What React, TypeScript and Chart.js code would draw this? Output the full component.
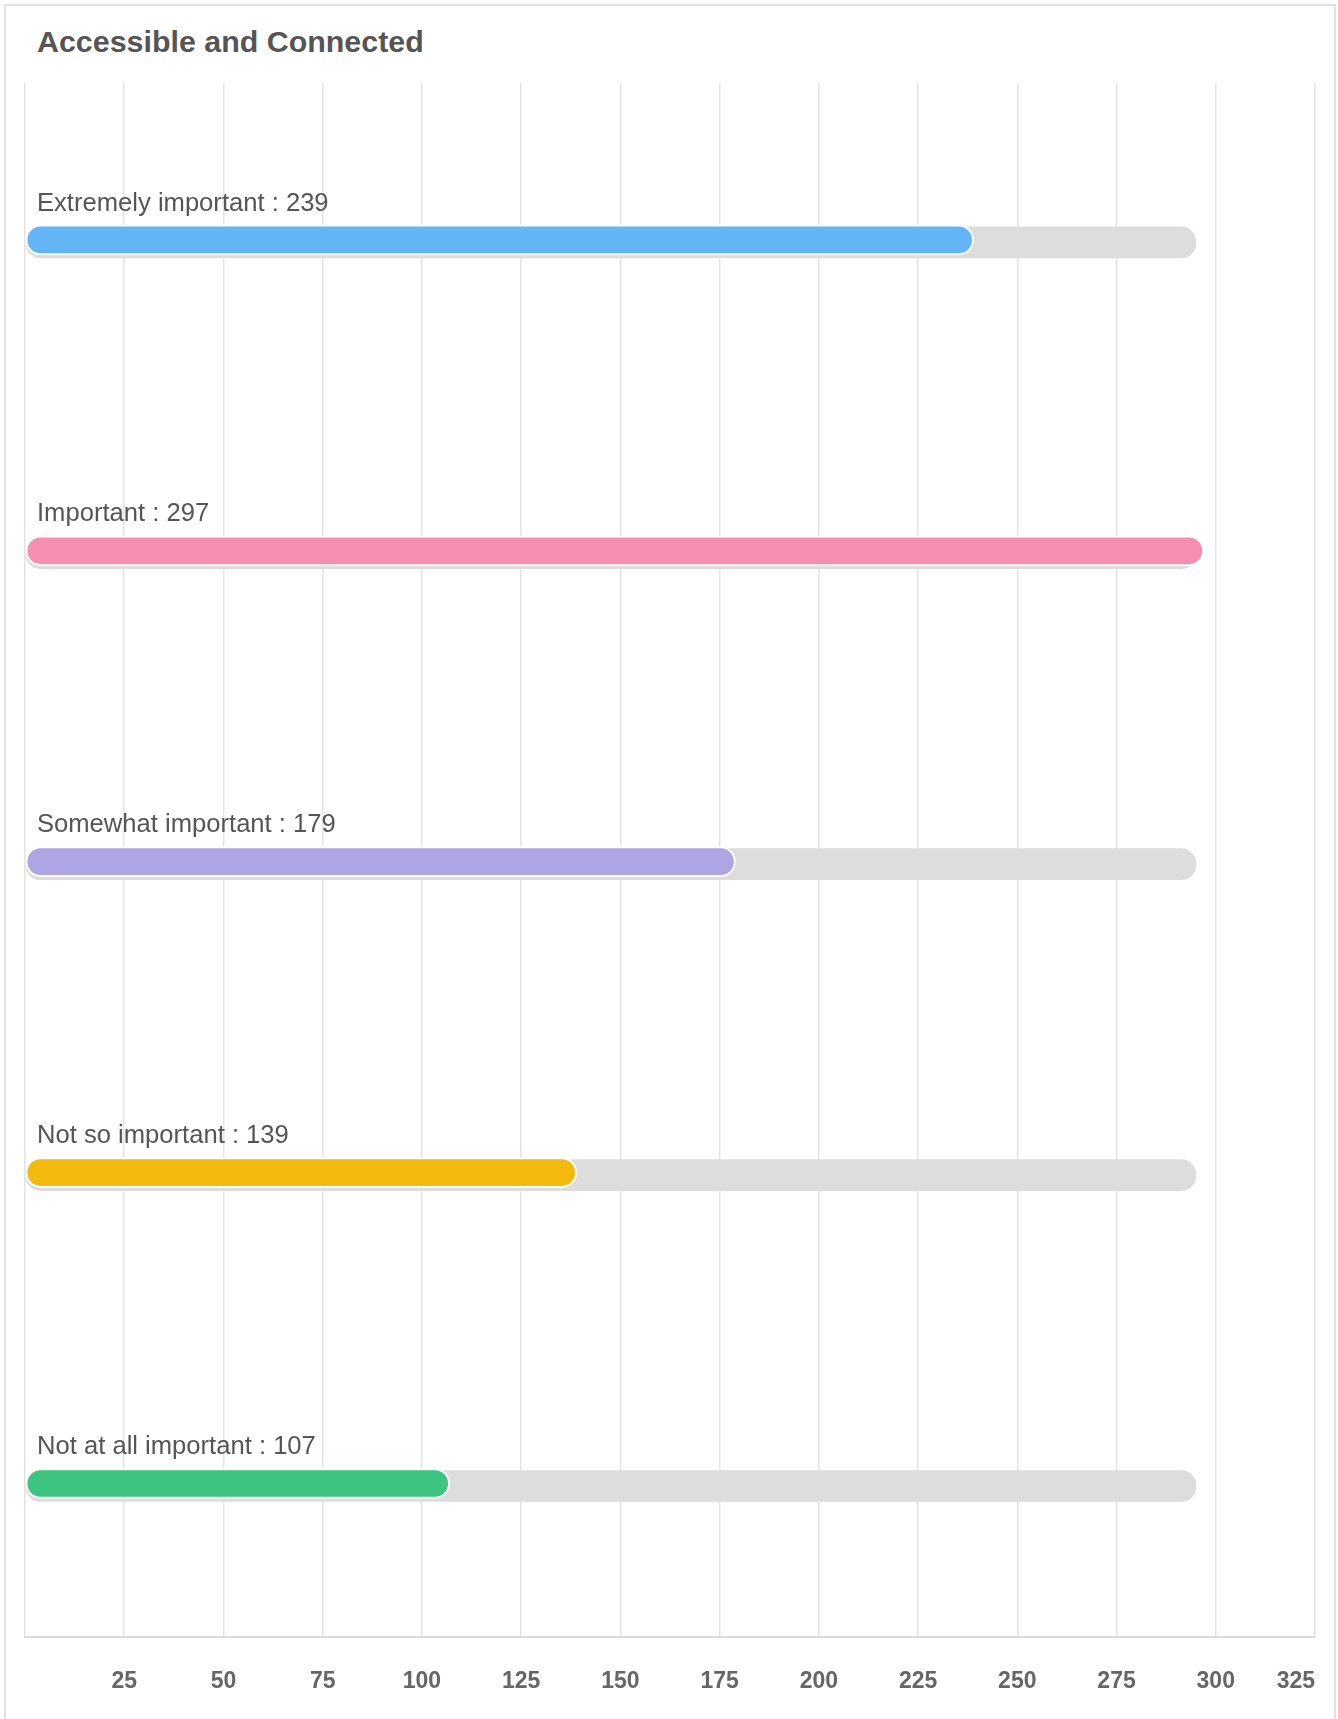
import React, { useEffect, useRef } from "react";
import { Chart, registerables } from "chart.js";

Chart.register(...registerables);

const titleText = "Accessible and Connected";
const categories = [
  "Extremely important",
  "Important",
  "Somewhat important",
  "Not so important",
  "Not at all important",
];
const responses = [239, 297, 179, 139, 107];
const trackValues = [295, 295, 295, 295, 295];
const barColors = ["#64b5f6", "#f48fb1", "#ada5e4", "#f2b90f", "#3dc482"];
const xMin = 0;
const xMax = 325;
const xStep = 25;

const FONT = "'Liberation Sans', Arial, Helvetica, sans-serif";

const shiftBars = {
  id: "shiftBars",
  beforeDatasetDraw(chart: any, args: any) {
    chart.ctx.save();
    chart.ctx.translate(0, args.index === 1 ? 4 : 1.5);
  },
  afterDatasetDraw(chart: any) {
    chart.ctx.restore();
  },
};

export default function App() {
  const ref = useRef<HTMLCanvasElement | null>(null);

  useEffect(() => {
    const canvas = ref.current;
    if (!canvas) return;
    const chart = new Chart(canvas, {
      type: "bar",
      data: {
        labels: categories,
        datasets: [
          {
            label: "Responses",
            data: responses,
            backgroundColor: barColors,
            borderColor: "#ffffff",
            borderWidth: 2,
            borderRadius: 15,
            borderSkipped: false,
            barThickness: 30,
            grouped: false,
          },
          {
            label: "Track",
            data: trackValues,
            backgroundColor: "#dddddd",
            borderWidth: 0,
            borderRadius: 15,
            borderSkipped: false,
            barThickness: 31,
            grouped: false,
          },
        ],
      },
      plugins: [shiftBars],
      options: {
        indexAxis: "y",
        responsive: false,
        animation: false,
        layout: { padding: { left: 1, right: 23, top: 83, bottom: 24 } },
        plugins: {
          legend: { display: false },
          tooltip: { enabled: false },
          title: { display: false },
        },
        scales: {
          x: {
            type: "linear",
            min: xMin,
            max: xMax,
            afterFit: (scale: any) => {
              scale.paddingRight = 0;
              scale.paddingLeft = 0;
            },
            ticks: {
              stepSize: xStep,
              padding: 0,
              color: "#666666",
              font: { family: FONT, size: 23, weight: "bold" },
              callback: (v: any) => {
                const n = Number(v);
                if (n === xMin) return "";
                if (n === xMax) return String(n) + "      ";
                return String(n);
              },
            },
            grid: {
              color: "#e3e3e3",
              lineWidth: 1.5,
              drawTicks: true,
              tickLength: 30,
              tickColor: "rgba(0,0,0,0)",
            },
            border: { display: true, color: "#dcdcdc", width: 2 },
          },
          y: {
            type: "category",
            ticks: {
              mirror: true,
              padding: 12,
              labelOffset: -35,
              color: "#555555",
              font: { family: FONT, size: 25.6 },
              callback: (_v: any, i: number) => `${categories[i]} : ${responses[i]}`,
            },
            grid: { display: false, drawTicks: false },
            border: { display: false },
          },
        },
      },
    });
    return () => chart.destroy();
  }, []);

  return (
    <div>
      <div
        style={{
          position: "absolute",
          left: 4,
          top: 4,
          width: 1332,
          height: 1715,
          boxSizing: "border-box",
          border: "2px solid #e2e2e2",
          borderBottom: "none",
          background: "#ffffff",
        }}
      />
      <div
        style={{
          position: "absolute",
          left: 37,
          top: 23,
          fontFamily: FONT,
          fontWeight: "bold",
          fontSize: 30.4,
          lineHeight: "36px",
          color: "#555555",
          whiteSpace: "nowrap",
        }}
      >
        {titleText}
      </div>
      <canvas
        ref={ref}
        width={1338}
        height={1719}
        style={{ position: "absolute", left: 0, top: 0, width: 1338, height: 1719 }}
      />
    </div>
  );
}
